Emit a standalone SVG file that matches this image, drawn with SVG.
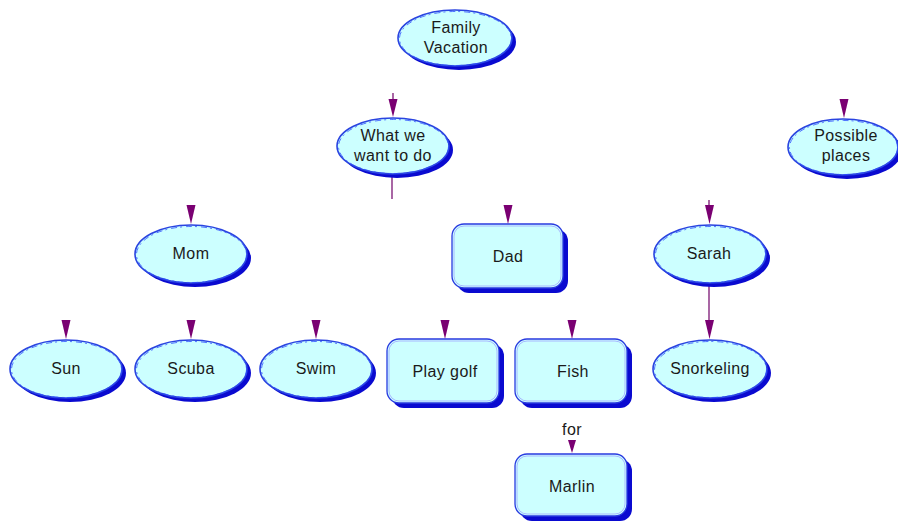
<svg xmlns="http://www.w3.org/2000/svg" width="898" height="521" viewBox="0 0 898 521">
<defs>
<style>
.sh{fill:#0a0ad0}
.el{fill:#ccffff;stroke:#2a44e0;stroke-width:1.6}
.el2{fill:none;stroke:#3050ff;stroke-width:0.8;stroke-dasharray:6 3 2 4}
.rc{fill:#ccffff;stroke:#2a3ae0;stroke-width:1.3}
.rc2{fill:none;stroke:#a8b8ff;stroke-width:1}
.t{font-family:"Liberation Sans",Arial,sans-serif;font-size:16px;letter-spacing:0.4px;fill:#1a1a1a;text-anchor:middle}
.ln{stroke:#700068;stroke-width:1.2;fill:none}
.ah{fill:#7a0072}
</style>
</defs>
<g id="connectors">
<line class="ln" x1="393" y1="93" x2="393" y2="110"/>
<line class="ln" x1="392" y1="175" x2="392" y2="199"/>
<line class="ln" x1="709" y1="200" x2="709" y2="215"/>
<line class="ln" x1="709" y1="283" x2="709" y2="332"/>
<polygon class="ah" points="388.5,99 397.5,99 393,117"/>
<polygon class="ah" points="839.5,99 848.5,99 844,118"/>
<polygon class="ah" points="186.5,205 195.5,205 191,224"/>
<polygon class="ah" points="503.5,205 512.5,205 508,224"/>
<polygon class="ah" points="705,205 714,205 709.5,224"/>
<polygon class="ah" points="61.5,320 70.5,320 66,339"/>
<polygon class="ah" points="186.5,320 195.5,320 191,339"/>
<polygon class="ah" points="311.5,320 320.5,320 316,339"/>
<polygon class="ah" points="440.5,320 449.5,320 445,339"/>
<polygon class="ah" points="567.5,320 576.5,320 572,339"/>
<polygon class="ah" points="705,320 714,320 709.5,339"/>
<polygon class="ah" points="568,440 576,440 572,453"/>
</g>
<text class="t" x="572" y="435">for</text>
<g id="family-vacation">
<ellipse class="sh" cx="459" cy="42" rx="57" ry="28"/>
<ellipse class="el" cx="455" cy="38" rx="57" ry="28"/>
<ellipse class="el2" cx="455.5" cy="38.5" rx="56" ry="27"/>
<text class="t" x="456" y="33">Family</text>
<text class="t" x="456" y="53">Vacation</text>
</g>
<g id="what-we-want">
<ellipse class="sh" cx="397" cy="150" rx="56" ry="28"/>
<ellipse class="el" cx="393" cy="146" rx="56" ry="28"/>
<ellipse class="el2" cx="393.5" cy="146.5" rx="55" ry="27"/>
<text class="t" x="393" y="141">What we</text>
<text class="t" x="393" y="161">want to do</text>
</g>
<g id="possible-places">
<ellipse class="sh" cx="847" cy="151" rx="55" ry="28"/>
<ellipse class="el" cx="843" cy="147" rx="55" ry="28"/>
<ellipse class="el2" cx="843.5" cy="147.5" rx="54" ry="27"/>
<text class="t" x="846" y="141">Possible</text>
<text class="t" x="846" y="161">places</text>
</g>
<g id="mom">
<ellipse class="sh" cx="195" cy="258" rx="56" ry="29"/>
<ellipse class="el" cx="191" cy="254" rx="56" ry="29"/>
<ellipse class="el2" cx="191.5" cy="254.5" rx="55" ry="28"/>
<text class="t" x="191" y="259">Mom</text>
</g>
<g id="dad">
<rect class="sh" x="457" y="229" width="111" height="64" rx="12"/>
<rect class="rc" x="452" y="224" width="111" height="64" rx="12"/>
<rect class="rc2" x="454" y="226" width="107" height="60" rx="10"/>
<text class="t" x="508" y="262">Dad</text>
</g>
<g id="sarah">
<ellipse class="sh" cx="714" cy="258" rx="56" ry="29"/>
<ellipse class="el" cx="710" cy="254" rx="56" ry="29"/>
<ellipse class="el2" cx="710.5" cy="254.5" rx="55" ry="28"/>
<text class="t" x="709" y="259">Sarah</text>
</g>
<g id="sun">
<ellipse class="sh" cx="70" cy="373" rx="56" ry="29"/>
<ellipse class="el" cx="66" cy="369" rx="56" ry="29"/>
<ellipse class="el2" cx="66.5" cy="369.5" rx="55" ry="28"/>
<text class="t" x="66" y="374">Sun</text>
</g>
<g id="scuba">
<ellipse class="sh" cx="195" cy="373" rx="56" ry="29"/>
<ellipse class="el" cx="191" cy="369" rx="56" ry="29"/>
<ellipse class="el2" cx="191.5" cy="369.5" rx="55" ry="28"/>
<text class="t" x="191" y="374">Scuba</text>
</g>
<g id="swim">
<ellipse class="sh" cx="320" cy="373" rx="56" ry="29"/>
<ellipse class="el" cx="316" cy="369" rx="56" ry="29"/>
<ellipse class="el2" cx="316.5" cy="369.5" rx="55" ry="28"/>
<text class="t" x="316" y="374">Swim</text>
</g>
<g id="play-golf">
<rect class="sh" x="392" y="344" width="112" height="64" rx="12"/>
<rect class="rc" x="387" y="339" width="112" height="64" rx="12"/>
<rect class="rc2" x="389" y="341" width="108" height="60" rx="10"/>
<text class="t" x="445" y="377">Play golf</text>
</g>
<g id="fish">
<rect class="sh" x="520" y="344" width="112" height="64" rx="12"/>
<rect class="rc" x="515" y="339" width="112" height="64" rx="12"/>
<rect class="rc2" x="517" y="341" width="108" height="60" rx="10"/>
<text class="t" x="573" y="377">Fish</text>
</g>
<g id="snorkeling">
<ellipse class="sh" cx="714" cy="373" rx="57" ry="29"/>
<ellipse class="el" cx="710" cy="369" rx="57" ry="29"/>
<ellipse class="el2" cx="710.5" cy="369.5" rx="56" ry="28"/>
<text class="t" x="710" y="374">Snorkeling</text>
</g>
<g id="marlin">
<rect class="sh" x="520" y="459" width="112" height="62" rx="12"/>
<rect class="rc" x="515" y="454" width="112" height="62" rx="12"/>
<rect class="rc2" x="517" y="456" width="108" height="58" rx="10"/>
<text class="t" x="572" y="492">Marlin</text>
</g>
</svg>
